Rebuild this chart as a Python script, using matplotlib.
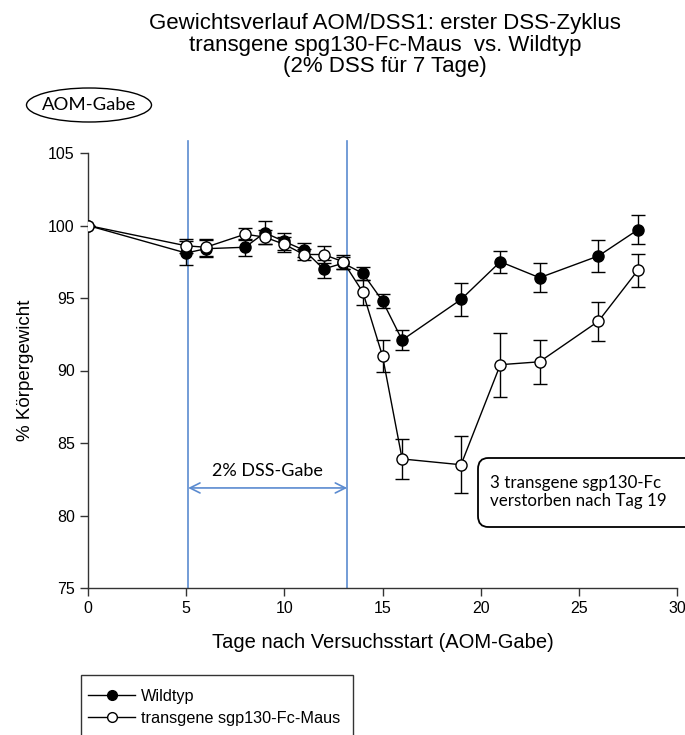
import matplotlib
matplotlib.use('Agg')
import matplotlib.pyplot as plt
from matplotlib.patches import Ellipse, FancyBboxPatch, Rectangle
from matplotlib.lines import Line2D

plt.rcParams['font.family'] = ['Liberation Sans', 'DejaVu Sans']

# Days after start of experiment
days = [0, 5, 6, 8, 9, 10, 11, 12, 13, 14, 15, 16, 19, 21, 23, 26, 28]

# Wildtyp (filled circles)
wt_mean = [100, 98.1, 98.4, 98.5, 99.5, 98.9, 98.3, 97.0, 97.4, 96.7, 94.8, 92.1, 94.9, 97.5, 96.4, 97.9, 99.7]
wt_err = [0, 0.8, 0.6, 0.6, 0.8, 0.6, 0.5, 0.6, 0.4, 0.45, 0.5, 0.7, 1.15, 0.75, 1.0, 1.1, 1.0]

# transgene sgp130-Fc-Maus (open circles)
tg_mean = [100, 98.6, 98.5, 99.4, 99.2, 98.7, 98.0, 98.0, 97.5, 95.4, 91.0, 83.9, 83.5, 90.4, 90.6, 93.4, 96.9]
tg_err = [0, 0.5, 0.6, 0.4, 0.5, 0.5, 0.4, 0.6, 0.5, 0.85, 1.1, 1.35, 1.95, 2.2, 1.5, 1.35, 1.15]

# DSS period (blue lines)
dss_start = 5.1
dss_end = 13.2

W, H = 685, 735
fig = plt.figure(figsize=(W / 100, H / 100), dpi=100)


def fx(px):
    return px / W


def fy(py):
    return 1 - py / H


ax = fig.add_axes([fx(88), fy(588), fx(677) - fx(88), fy(153) - fy(588)])

ax.errorbar(days, wt_mean, yerr=wt_err, color='black', lw=1.0, marker='o', ms=8,
            mfc='black', mec='black', mew=1.0, capsize=5, capthick=1.0, elinewidth=1.0,
            label='Wildtyp', zorder=3)
ax.errorbar(days, tg_mean, yerr=tg_err, color='black', lw=1.0, marker='o', ms=8,
            mfc='white', mec='black', mew=1.0, capsize=5, capthick=1.0, elinewidth=1.0,
            label='transgene sgp130-Fc-Maus', zorder=4)

ax.set_xlim(0, 30)
ax.set_ylim(75, 105)
ax.set_xticks([0, 5, 10, 15, 20, 25, 30])
ax.set_yticks([75, 80, 85, 90, 95, 100, 105])
ax.spines['top'].set_visible(False)
ax.spines['right'].set_visible(False)
for s in ['left', 'bottom']:
    ax.spines[s].set_linewidth(1.0)
    ax.spines[s].set_color('#333333')
ax.tick_params(direction='out', length=6, width=1.0, labelsize=11.5, color='#333333')
ax.set_xlabel('Tage nach Versuchsstart (AOM-Gabe)', fontsize=14.5, labelpad=12)
ax.set_ylabel('% Körpergewicht', fontsize=13.5, labelpad=10)

# blue DSS lines and arrow
blue = '#5b8bd0'
for xv in [dss_start, dss_end]:
    ax.plot([xv, xv], [75, 105.8], color=blue, lw=1.2, clip_on=False, zorder=2)
ax.annotate('', xy=(dss_start, 81.9), xytext=(dss_end, 81.9),
            arrowprops=dict(arrowstyle='<->', color=blue, lw=1.2,
                            mutation_scale=18, shrinkA=0, shrinkB=0))
ax.text((dss_start + dss_end) / 2, 83.1, '2% DSS-Gabe', ha='center', va='center',
        fontsize=13, family=['Lato', 'DejaVu Sans'])

# title
fig.text(fx(385), fy(45), 'Gewichtsverlauf AOM/DSS1: erster DSS-Zyklus\n'
         'transgene spg130-Fc-Maus  vs. Wildtyp\n(2% DSS für 7 Tage)',
         ha='center', va='center', fontsize=16, linespacing=1.05)

# AOM-Gabe ellipse
ell = Ellipse((fx(89), fy(105)), fx(125), 34 / H, transform=fig.transFigure,
              fill=False, ec='black', lw=1.0)
fig.patches.append(ell)
fig.text(fx(89), fy(105), 'AOM-Gabe', ha='center', va='center', fontsize=13.3,
         family=['Lato', 'DejaVu Sans'])

# annotation box
box = FancyBboxPatch((fx(478), fy(527)), fx(230), 69 / H, transform=fig.transFigure,
                     boxstyle='round,pad=0,rounding_size=0.015', fill=False,
                     ec='black', lw=1.3)
fig.patches.append(box)
fig.text(fx(490), fy(492), '3 transgene sgp130-Fc\nverstorben nach Tag 19',
         ha='left', va='center', fontsize=12.2, family=['Lato', 'DejaVu Sans'],
         linespacing=1.2)

# legend box (extends past bottom edge)
rect = Rectangle((fx(81), fy(760)), fx(272), 85 / H, transform=fig.transFigure,
                 fill=False, ec='#333333', lw=1.0)
fig.patches.append(rect)
handles = [Line2D([], [], color='black', lw=1.0, marker='o', ms=7, mfc='black', mec='black'),
           Line2D([], [], color='black', lw=1.0, marker='o', ms=7, mfc='white', mec='black')]
fig.legend(handles, ['Wildtyp', 'transgene sgp130-Fc-Maus'], loc='upper left',
           bbox_to_anchor=(fx(88), fy(689)), frameon=False, fontsize=11.7,
           handlelength=2.9, handletextpad=0.35, labelspacing=0.4, borderpad=0,
           borderaxespad=0)

fig.savefig('out.png', dpi=100)
